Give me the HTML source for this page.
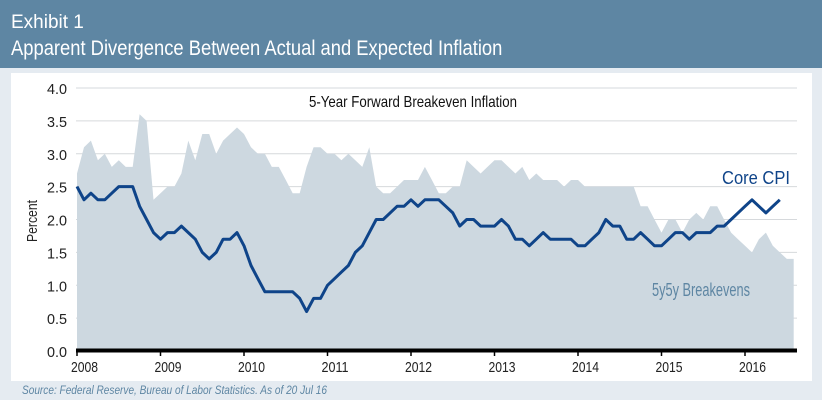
<!DOCTYPE html>
<html><head><meta charset="utf-8"><style>
body{margin:0;width:822px;height:403px;overflow:hidden;background:#fff;font-family:"Liberation Sans Narrow","Liberation Sans",sans-serif}
#hdr{position:absolute;left:0;top:0;width:822px;height:68px;background:#5e86a3;color:#fff}
#band{position:absolute;left:0;top:68px;width:822px;height:332px;background:#e5ebf1}
#panel{position:absolute;left:11px;top:73px;width:801px;height:308px;background:#fff}
.sq{transform-origin:0 0;white-space:nowrap}
svg{position:absolute;left:0;top:0}
</style></head><body>
<div id="hdr">
<div class="sq" style="position:absolute;left:11px;top:12px;font-size:19px;transform:scaleX(1.0)">Exhibit 1</div>
<div class="sq" style="position:absolute;left:11px;top:37px;font-size:21px;transform:scaleX(0.875)">Apparent Divergence Between Actual and Expected Inflation</div>
</div>
<div id="band"></div>
<div id="panel"></div>
<div class="sq" style="position:absolute;left:22px;top:383px;font-size:12px;font-style:italic;color:#5e86a3;transform:scaleX(0.84)">Source: Federal Reserve, Bureau of Labor Statistics. As of 20 Jul 16</div>
<svg id="chart" width="822" height="403"></svg>
<script>
const yTicks=[0,0.5,1,1.5,2,2.5,3,3.5,4];
const yTickLabels=["0.0","0.5","1.0","1.5","2.0","2.5","3.0","3.5","4.0"];
const years=[2008,2009,2010,2011,2012,2013,2014,2015,2016];
const cpi=[2.5,2.3,2.4,2.3,2.3,2.4,2.5,2.5,2.5,2.2,2.0,1.8,
1.7,1.8,1.8,1.9,1.8,1.7,1.5,1.4,1.5,1.7,1.7,1.8,
1.6,1.3,1.1,0.9,0.9,0.9,0.9,0.9,0.8,0.6,0.8,0.8,
1.0,1.1,1.2,1.3,1.5,1.6,1.8,2.0,2.0,2.1,2.2,2.2,
2.3,2.2,2.3,2.3,2.3,2.2,2.1,1.9,2.0,2.0,1.9,1.9,
1.9,2.0,1.9,1.7,1.7,1.6,1.7,1.8,1.7,1.7,1.7,1.7,
1.6,1.6,1.7,1.8,2.0,1.9,1.9,1.7,1.7,1.8,1.7,1.6,
1.6,1.7,1.8,1.8,1.7,1.8,1.8,1.8,1.9,1.9,2.0,2.1,
2.2,2.3,2.2,2.1,2.2,2.3];
const bke=[2.7,3.1,3.2,2.9,3.0,2.8,2.9,2.8,2.8,3.6,3.5,2.3,
2.4,2.5,2.5,2.7,3.2,2.9,3.3,3.3,3.0,3.2,3.3,3.4,
3.3,3.1,3.0,3.0,2.8,2.8,2.6,2.4,2.4,2.8,3.1,3.1,
3.0,3.0,2.9,3.0,2.9,2.8,3.1,2.5,2.4,2.4,2.5,2.6,
2.6,2.6,2.8,2.6,2.4,2.4,2.5,2.5,2.9,2.8,2.7,2.8,
2.9,2.9,2.8,2.7,2.8,2.6,2.7,2.6,2.6,2.6,2.5,2.6,
2.6,2.5,2.5,2.5,2.5,2.5,2.5,2.5,2.5,2.2,2.2,2.0,
1.8,2.0,2.0,1.8,2.0,2.1,2.0,2.2,2.2,2.0,1.8,1.7,
1.6,1.5,1.7,1.8,1.6,1.5,1.4,1.4];
const X=t=>77+(t-2008)*83.5, Y=v=>351-v*65.75;
const svg=document.getElementById('chart');const NS='http://www.w3.org/2000/svg';
function mk(tag,attrs,txt){const e=document.createElementNS(NS,tag);for(const k in attrs)e.setAttribute(k,attrs[k]);if(txt!==undefined)e.textContent=txt;svg.appendChild(e);return e;}
yTicks.forEach((v,i)=>{if(v>0){const g=mk('line',{x1:76,x2:797,y1:Y(v),y2:Y(v),stroke:'#d6d9dc','stroke-width':1});

}
const t=mk('text',{x:67,y:Y(v)+6,'text-anchor':'end','font-size':15,fill:'#222',textLength:20,lengthAdjust:'spacingAndGlyphs'},yTickLabels[i]);

});
let d='M'+X(2008)+','+Y(0);
bke.forEach((v,i)=>{d+=' L'+X(2008+i/12).toFixed(1)+','+Y(v).toFixed(1);});
d+=' L'+X(2008+(bke.length-1)/12).toFixed(1)+','+Y(0)+' Z';
const area=mk('path',{d:d,fill:'#cdd8e0'});


let p='';cpi.forEach((v,i)=>{p+=(i?' L':'M')+X(2008+i/12).toFixed(1)+','+Y(v).toFixed(1);});
const line=mk('path',{d:p,fill:'none',stroke:'#0f4489','stroke-width':3,'stroke-linejoin':'round'});


const ax=mk('line',{x1:76,x2:797,y1:350.5,y2:350.5,stroke:'#000','stroke-width':4});


years.forEach(yr=>{const tk=mk('line',{x1:X(yr),x2:X(yr),y1:350,y2:356,stroke:'#000','stroke-width':1.5});


const t=mk('text',{x:X(yr)-6,y:372,'font-size':15,fill:'#222',textLength:27,lengthAdjust:'spacingAndGlyphs'},yr);

});
const yl=mk('text',{x:0,y:0,transform:'translate(37,221) rotate(-90)','text-anchor':'middle','font-size':15,fill:'#222',textLength:42,lengthAdjust:'spacingAndGlyphs'},'Percent');


const st=mk('text',{x:309,y:107,'font-size':16,fill:'#111',textLength:208,lengthAdjust:'spacingAndGlyphs'},'5-Year Forward Breakeven Inflation');


const l1=mk('text',{x:722,y:184,'font-size':18,fill:'#0f4489',textLength:68,lengthAdjust:'spacingAndGlyphs'},'Core CPI');


const l2=mk('text',{x:652,y:296,'font-size':18,fill:'#5e86a3',textLength:98,lengthAdjust:'spacingAndGlyphs'},'5y5y Breakevens');


</script>
</body></html>
